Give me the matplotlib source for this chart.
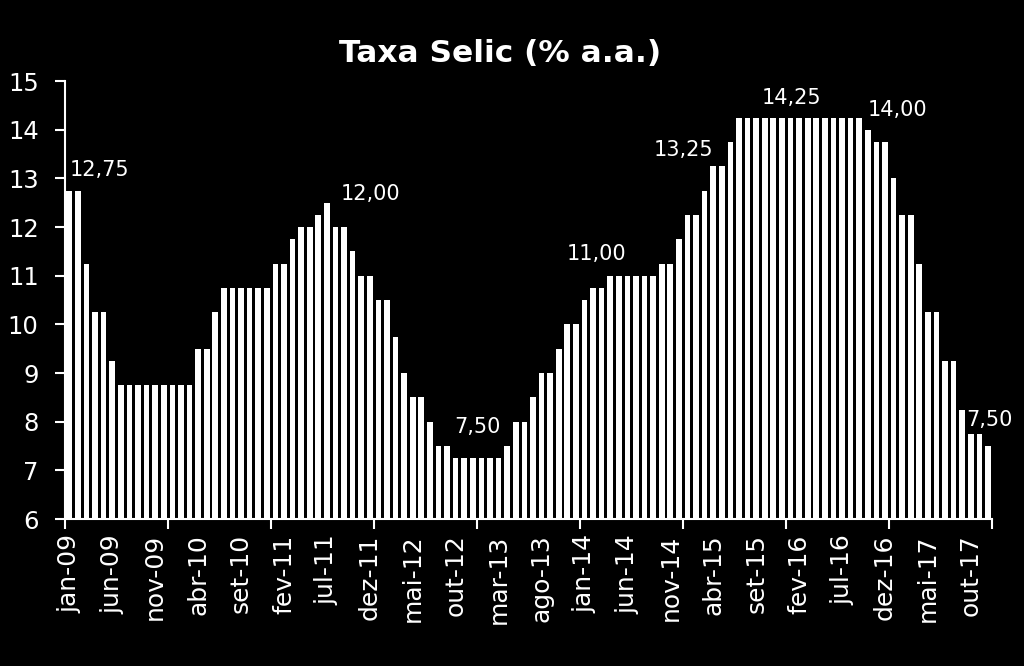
import numpy as np
import matplotlib
matplotlib.use("Agg")
import matplotlib.pyplot as plt

BG = "black"
FG = "white"

MONTHS = ["jan", "fev", "mar", "abr", "mai", "jun",
          "jul", "ago", "set", "out", "nov", "dez"]
YEARS = ["09", "10", "11", "12", "13", "14", "15", "16", "17"]

selic_2009 = [12.75, 12.75, 11.25, 10.25, 10.25, 9.25, 8.75, 8.75, 8.75, 8.75, 8.75, 8.75]
selic_2010 = [8.75, 8.75, 8.75, 9.50, 9.50, 10.25, 10.75, 10.75, 10.75, 10.75, 10.75, 10.75]
selic_2011 = [11.25, 11.25, 11.75, 12.00, 12.00, 12.25, 12.50, 12.00, 12.00, 11.50, 11.00, 11.00]
selic_2012 = [10.50, 10.50, 9.75, 9.00, 8.50, 8.50, 8.00, 7.50, 7.50, 7.25, 7.25, 7.25]
selic_2013 = [7.25, 7.25, 7.25, 7.50, 8.00, 8.00, 8.50, 9.00, 9.00, 9.50, 10.00, 10.00]
selic_2014 = [10.50, 10.75, 10.75, 11.00, 11.00, 11.00, 11.00, 11.00, 11.00, 11.25, 11.25, 11.75]
selic_2015 = [12.25, 12.25, 12.75, 13.25, 13.25, 13.75, 14.25, 14.25, 14.25, 14.25, 14.25, 14.25]
selic_2016 = [14.25, 14.25, 14.25, 14.25, 14.25, 14.25, 14.25, 14.25, 14.25, 14.00, 13.75, 13.75]
selic_2017 = [13.00, 12.25, 12.25, 11.25, 10.25, 10.25, 9.25, 9.25, 8.25, 7.75, 7.75, 7.50]

values = (selic_2009 + selic_2010 + selic_2011 + selic_2012 + selic_2013
          + selic_2014 + selic_2015 + selic_2016 + selic_2017)
labels = [f"{m}-{y}" for y in YEARS for m in MONTHS]

# highlighted values: (bar index, text, offset x pt, offset y pt, ha)
highlights = [
    (1, "12,75", -6, 15, "left"),
    (31, "12,00", 4, 24, "left"),
    (44, "7,50", 5, 14, "left"),
    (63, "11,00", -31, 16, "left"),
    (75, "13,25", -43, 12, "left"),
    (84, "14,25", -21, 14, "left"),
    (93, "14,00", 0, 14, "left"),
    (107, "7,50", 1, 19, "center"),
]

fig = plt.figure(figsize=(10.24, 6.66), dpi=100)
fig.patch.set_facecolor(BG)
ax = fig.add_axes([0.0635, 0.2207, 0.9055, 0.6575])
ax.set_facecolor(BG)

x = np.arange(len(values))
ax.bar(x, np.array(values) - 6, bottom=6, width=0.66, color=FG, edgecolor="none")

ax.set_xlim(-0.5, len(values) - 0.5)
ax.set_ylim(6, 15)
ax.set_yticks(range(6, 16))
ax.tick_params(axis="y", colors=FG, labelcolor=FG, labelsize=17.5,
               length=7, width=1.5, pad=12, direction="out")

# tick marks between years, labels every 5 months
ax.set_xticks(np.arange(-0.5, len(values), 12))
ax.set_xticklabels([])
ax.tick_params(axis="x", which="major", colors=FG, length=7, width=1.5, direction="out")
ax.set_xticks(x[::5], minor=True)
ax.set_xticklabels(labels[::5], minor=True, rotation=90, fontsize=18, color=FG)
ax.tick_params(axis="x", which="minor", length=0, pad=11)

for side in ["top", "right"]:
    ax.spines[side].set_visible(False)
for side in ["left", "bottom"]:
    ax.spines[side].set_color(FG)
    ax.spines[side].set_linewidth(1.5)

for idx, txt, dx, dy, ha in highlights:
    ax.annotate(txt, (idx, values[idx]), xytext=(dx, dy), textcoords="offset points",
                ha=ha, va="center", color=FG, fontsize=15)

fig.text(0.488, 0.92, "Taxa Selic (% a.a.)", ha="center", va="center",
         color=FG, fontsize=22.5, fontweight="bold")

plt.savefig("out.png", facecolor=BG)
plt.close(fig)
